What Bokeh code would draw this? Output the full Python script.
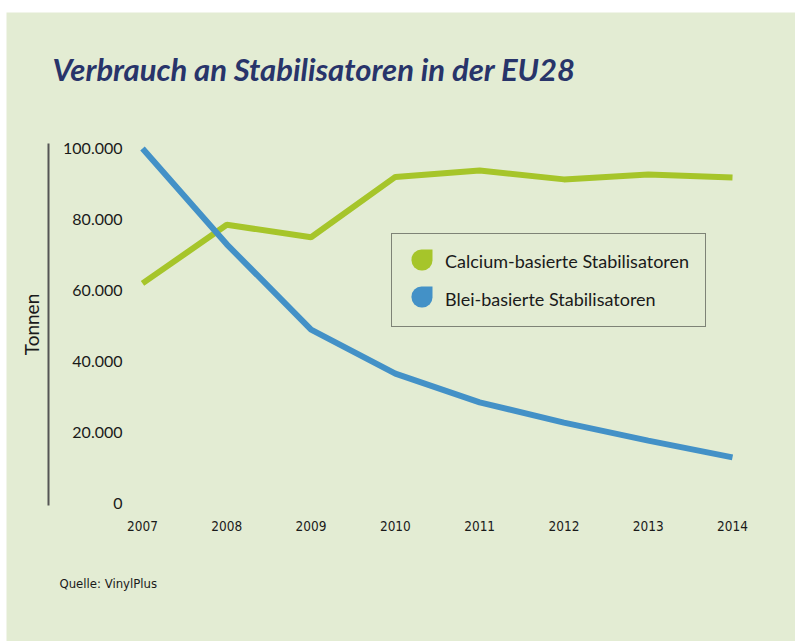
from bokeh.plotting import figure
from bokeh.models import (Range1d, LinearAxis, FixedTicker, Label, Legend, LegendItem,
                          BoxAnnotation, ColumnDataSource)
from bokeh.embed import file_html
from bokeh.resources import INLINE

# ---- data ----
years = [2007, 2008, 2009, 2010, 2011, 2012, 2013, 2014]
calcium = [62000, 78500, 75000, 92000, 93800, 91300, 92700, 91800]
blei = [100000, 73000, 49000, 36600, 28500, 22800, 17700, 13000]
y_ticks = [0, 20000, 40000, 60000, 80000, 100000]
y_tick_labels = ["0", "20.000", "40.000", "60.000", "80.000", "100.000"]
x_tick_labels = [str(y) for y in years]
series_names = ["Calcium-basierte Stabilisatoren", "Blei-basierte Stabilisatoren"]
title_text = "Verbrauch an Stabilisatoren in der EU28"
source_text = "Quelle: VinylPlus"
y_axis_label = "Tonnen"

# ---- style ----
BG = "#e3ecd3"
GREEN = "#a6c52a"
BLUE = "#4391c7"
TXT = "#1a1a1a"
TITLE_C = "#28346a"
FONT = "Lato"
NARROW = "DejaVu Sans Condensed"

W, H = 789, 629
p = figure(width=W, height=H, output_backend="svg", toolbar_location=None,
           x_range=Range1d(2005.3864, 2014.7474), y_range=Range1d(-38873, 138310),
           min_border=0, min_border_left=0, min_border_right=0, min_border_top=0,
           min_border_bottom=0,
           background_fill_color=BG, border_fill_color=BG, outline_line_color=None,
           x_axis_type=None, y_axis_type=None)
p.margin = (12, 0, 0, 6)

# grey vertical line + "Tonnen"
ax_line = LinearAxis(fixed_location=2005.8847, bounds=(-563, 101408),
                     ticker=FixedTicker(ticks=[]), axis_label=y_axis_label,
                     axis_line_color="#555555", axis_line_width=2,
                     major_tick_line_color=None, minor_tick_line_color=None,
                     axis_label_text_font=FONT, axis_label_text_font_size="19px",
                     axis_label_text_font_style="normal", axis_label_text_color=TXT,
                     axis_label_standoff=6)
p.add_layout(ax_line, "left")

# y tick labels, right of the line
ax_ticks = LinearAxis(fixed_location=2006.763, ticker=FixedTicker(ticks=y_ticks),
                      major_label_overrides=dict(zip(y_ticks, y_tick_labels)),
                      axis_line_color=None, major_tick_line_color=None,
                      minor_tick_line_color=None, major_tick_out=0, major_tick_in=0,
                      major_label_standoff=0, major_label_text_font=FONT,
                      major_label_text_font_size="16px", major_label_text_color=TXT)
p.add_layout(ax_ticks, "left")

ax_x = LinearAxis(fixed_location=-563, ticker=FixedTicker(ticks=years),
                  major_label_overrides=dict(zip(years, x_tick_labels)),
                  axis_line_color=None, major_tick_line_color=None,
                  minor_tick_line_color=None, major_tick_out=0, major_tick_in=0,
                  major_label_standoff=16, major_label_text_font=NARROW,
                  major_label_text_font_size="13.5px", major_label_text_color=TXT)
p.add_layout(ax_x, "below")

src = ColumnDataSource(dict(year=years, calcium=calcium, blei=blei))
p.line("year", "calcium", source=src, line_color=GREEN, line_width=6)
p.line("year", "blei", source=src, line_color=BLUE, line_width=6)

# legend (glyphs drawn as drop icons by box annotations)
dummy = ColumnDataSource(dict(x=[], y=[]))
r_ca = p.scatter("x", "y", source=dummy, size=20, fill_color=GREEN, line_color=None,
                 fill_alpha=0, line_alpha=0)
r_pb = p.scatter("x", "y", source=dummy, size=20, fill_color=BLUE, line_color=None,
                 fill_alpha=0, line_alpha=0)
legend = Legend(items=[LegendItem(label=series_names[0], renderers=[r_ca]),
                       LegendItem(label=series_names[1], renderers=[r_pb])],
                location=(385, 314), orientation="vertical", padding=16, spacing=16,
                glyph_width=30, glyph_height=20, label_height=20, label_standoff=7,
                label_text_font=FONT, label_text_font_size="18px",
                label_text_color=TXT, border_line_color=TXT, border_line_width=1.5,
                background_fill_alpha=0, margin=0)
p.add_layout(legend, "center")

for col, (top, bot) in zip([GREEN, BLUE], [(392, 371), (355, 334)]):
    p.add_layout(BoxAnnotation(left=405, right=426, top=top, bottom=bot,
                               left_units="screen", right_units="screen",
                               top_units="screen", bottom_units="screen",
                               fill_color=col, fill_alpha=1, line_color=None,
                               border_radius=(10, 0, 10, 10)))

p.add_layout(Label(x=46, y=573, x_units="screen", y_units="screen", text=title_text,
                   text_font=FONT, text_font_style="bold italic", text_font_size="31px",
                   text_color=TITLE_C, text_baseline="alphabetic"))
p.add_layout(Label(x=53, y=58, x_units="screen", y_units="screen", text=source_text,
                   text_font=NARROW, text_font_size="13px", text_color=TXT,
                   text_baseline="alphabetic"))

open("out.html", "w").write(file_html(p, INLINE))
